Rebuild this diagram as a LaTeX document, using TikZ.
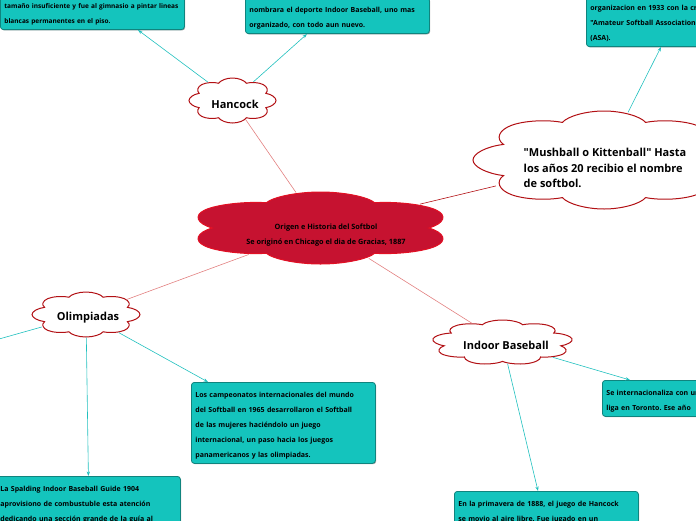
\documentclass[tikz,border=0pt]{standalone}
\usepackage{fontspec}
\setmainfont{Open Sans}[Ligatures=TeXOff]
\usepackage{tikz}
\usetikzlibrary{shapes.symbols}
\usetikzlibrary{arrows.meta}
\usetikzlibrary{calc}
\usetikzlibrary{shadows}
\frenchspacing

\definecolor{rojocentro}{RGB}{198,18,48}
\definecolor{rojoborde}{RGB}{226,16,36}
\definecolor{rojonube}{RGB}{178,16,20}
\definecolor{rosarama}{RGB}{226,128,128}
\definecolor{turquesa}{RGB}{20,196,189}
\definecolor{turquesaborde}{RGB}{16,132,126}
\definecolor{turquesaflecha}{RGB}{32,192,190}

\begin{document}
\begin{tikzpicture}[x=1pt,y=-1pt,
    nube/.style={cloud, cloud puffs=8, cloud puff arc=145, transform shape, draw=rojonube, line width=1pt,
        fill=white, minimum width=40pt, minimum height=40pt, inner sep=0pt},
    texto/.style={align=center, font=\fontsize{11}{15.5}\selectfont\bfseries},
    nota/.style={rectangle, rounded corners=3pt, draw=turquesaborde, fill=turquesa, line width=0.8pt,
        align=left, text width=176pt, inner xsep=4pt, inner ysep=3pt,
        execute at begin node={\rule{0pt}{12pt}}, execute at end node={\rule[-3pt]{0pt}{3pt}},
        drop shadow={shadow xshift=0.8pt, shadow yshift=-0.8pt, opacity=0.35, fill=black},
        font=\fontsize{7}{15}\selectfont\bfseries},
    rama/.style={draw=rosarama, line width=0.6pt},
    enlace/.style={draw=turquesaflecha, line width=0.6pt, -{Stealth[length=4.5pt,width=3.2pt]}}]
    \useasboundingbox (0,0) rectangle (696,520);
    \clip (0,0) rectangle (696,520);

    % nubes
    \begin{scope}[shift={(320.5,228)}, xscale=6.675, yscale=1.8]
        \node[nube, cloud puffs=6, shape border rotate=30, fill=rojocentro, draw=rojoborde] (origen) {};
    \end{scope}
    \begin{scope}[shift={(232.5,100.5)}, xscale=2.175, yscale=1.125]
        \node[nube] (hancock) {};
    \end{scope}
    \begin{scope}[shift={(604,160)}, xscale=6.55, yscale=2.45]
        \node[nube] (mushball) {};
    \end{scope}
    \begin{scope}[shift={(86,314.5)}, xscale=2.7, yscale=1.125]
        \node[nube] (olimp) {};
    \end{scope}
    \begin{scope}[shift={(502.5,342.5)}, xscale=3.525, yscale=1.125]
        \node[nube, cloud puffs=9] (indoor) {};
    \end{scope}

    % textos de las nubes
    \node[texto, font=\fontsize{7.3}{15}\selectfont\bfseries] (origentxt) at (326,235)
        {Origen e Historia del Softbol\\Se originó en Chicago el dia de Gracias, 1887};
    \node[texto] (hancocktxt) at (235,104) {Hancock};
    \node[texto, align=left] (mushballtxt) at (605,168)
        {"Mushball o Kittenball" Hasta\\los años 20 recibio el nombre\\de softbol.};
    \node[texto] (olimptxt) at (88,318) {Olimpiadas};
    \node[texto] (indoortxt) at (506,345) {Indoor Baseball};

    % notas
    \node[nota, anchor=south west, font=\fontsize{6.5}{15}\selectfont\bfseries] (gimnasio) at (0,30)
        {tamaño insuficiente y fue al gimnasio a pintar lineas\\blancas permanentes en el piso.};
    \node[nota, anchor=south west] (nombre) at (245,34)
        {nombrara el deporte Indoor Baseball, uno mas\\organizado, con todo aun nuevo.};
    \node[nota, anchor=south west] (asa) at (586,47)
        {organizacion en 1933 con la creación\\"Amateur Softball Association"\\(ASA).};
    \node[nota, anchor=north west] (campeonatos) at (191,382)
        {Los campeonatos internacionales del mundo\\del Softball en 1965 desarrollaron el Softball\\de las mujeres haciéndolo un juego\\internacional, un paso hacia los juegos\\panamericanos y las olimpiadas.};
    \node[nota, anchor=north west] (spalding) at (-4,476)
        {La Spalding Indoor Baseball Guide 1904\\aprovisiono de combustuble esta atención\\dedicando una sección grande de la guía al};
    \node[nota, anchor=north west] (primavera) at (454,491)
        {En la primavera de 1888, el juego de Hancock\\se movio al aire libre. Fue jugado en un};
    \node[nota, anchor=north west] (toronto) at (602,380)
        {Se internacionaliza con una\\liga en Toronto. Ese año};
    \coordinate (olfuera) at (-40,350);

    % ramas
    \draw[rama] (origen) -- (hancock);
    \draw[rama, draw=rojonube] (origen) -- (mushball);
    \draw[rama] (origen) -- (olimp);
    \draw[rama] (origen) -- (indoor);

    % enlaces
    \draw[enlace] (hancock) -- ($(gimnasio.south west)+(138,0)$);
    \draw[enlace] (hancock) -- ($(nombre.south west)+(62,0)$);
    \draw[enlace] (mushball) -- ($(asa.south west)+(75,0)$);
    \draw[enlace] (olimp) -- (olfuera);
    \draw[enlace] (olimp) -- ($(campeonatos.north west)+(17,0)$);
    \draw[enlace] (olimp) -- (spalding.north);
    \draw[enlace] (indoor) -- ($(primavera.north west)+(84,0)$);
    \draw[enlace] (indoor) -- ($(toronto.north west)+(28,0)$);
\end{tikzpicture}
\end{document}
